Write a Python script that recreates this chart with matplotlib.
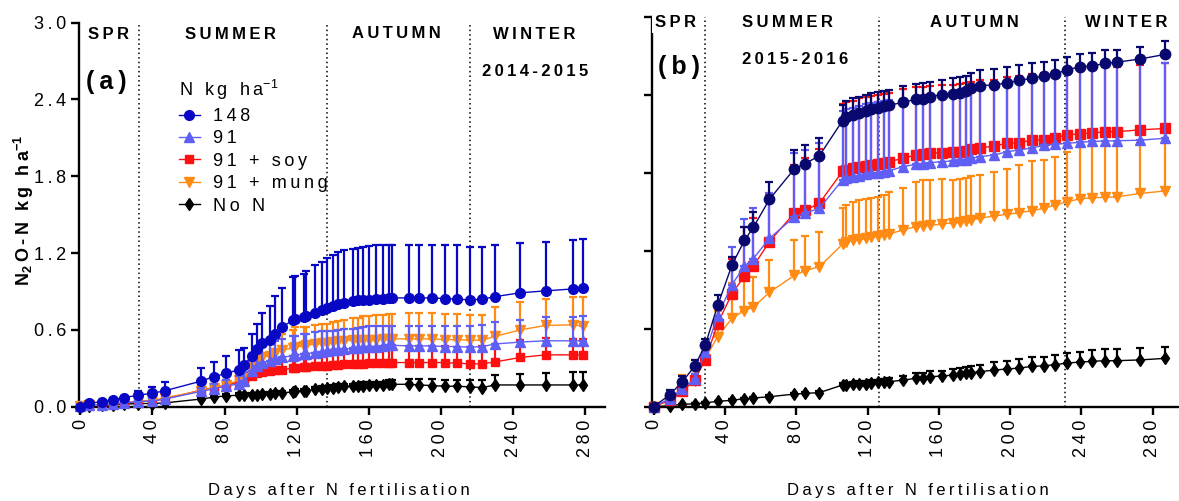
import numpy as np
import matplotlib.pyplot as plt

plt.rcParams['font.family'] = ['Liberation Sans', 'DejaVu Sans']
plt.rcParams['mathtext.fontset'] = 'custom'
plt.rcParams['mathtext.rm'] = 'Liberation Sans'
plt.rcParams['mathtext.bf'] = 'Liberation Sans:bold'
plt.rcParams['mathtext.it'] = 'Liberation Sans:italic'

# ---------- 2014-2015 season (panel a) ----------
days_a = [0, 5, 12, 18, 24, 32, 40, 47, 67, 74, 81, 88, 91, 95, 98, 101, 105, 108, 112, 118,
          119, 124, 125, 130, 134, 137, 140, 143, 146, 151, 154, 157, 160, 164, 168, 171, 173, 182, 188, 195,
          202, 209, 216, 223, 230, 244, 258, 273, 279]

n148_a = [0, 0.027, 0.04, 0.052, 0.07, 0.09, 0.105, 0.125, 0.20, 0.235,
          0.26, 0.29, 0.325, 0.40, 0.45, 0.495, 0.525, 0.57, 0.62, 0.68,
          0.685, 0.70, 0.71, 0.735, 0.755, 0.775, 0.785, 0.80, 0.81, 0.825,
          0.83, 0.835, 0.835, 0.84, 0.845, 0.85, 0.85, 0.85, 0.85, 0.85,
          0.845, 0.84, 0.835, 0.84, 0.86, 0.89, 0.905, 0.92, 0.93]
se148_a = [0.01, 0.008, 0.01, 0.013, 0.015, 0.03, 0.05, 0.065, 0.10, 0.115,
           0.14, 0.15, 0.135, 0.165, 0.20, 0.24, 0.26, 0.295, 0.31, 0.335,
           0.335, 0.335, 0.35, 0.37, 0.375, 0.39, 0.40, 0.41, 0.415, 0.41,
           0.41, 0.415, 0.42, 0.42, 0.415, 0.41, 0.41, 0.41, 0.41, 0.41,
           0.415, 0.42, 0.415, 0.405, 0.40, 0.39, 0.385, 0.38, 0.38]

n91_a = [0.005, 0.01, 0.015, 0.02, 0.03, 0.04, 0.045, 0.06, 0.12, 0.14,
         0.16, 0.18, 0.20, 0.28, 0.32, 0.345, 0.36, 0.37, 0.385, 0.40,
         0.405, 0.41, 0.415, 0.42, 0.43, 0.435, 0.44, 0.445, 0.45, 0.455,
         0.46, 0.465, 0.47, 0.47, 0.475, 0.48, 0.48, 0.475, 0.475, 0.475,
         0.47, 0.47, 0.465, 0.47, 0.49, 0.505, 0.515, 0.515, 0.515]
se91_a = [0.005, 0.005, 0.008, 0.01, 0.01, 0.015, 0.02, 0.02, 0.03, 0.04,
          0.05, 0.06, 0.07, 0.08, 0.10, 0.12, 0.13, 0.14, 0.145, 0.15,
          0.15, 0.155, 0.155, 0.16, 0.16, 0.155, 0.155, 0.155, 0.155, 0.155,
          0.155, 0.16, 0.16, 0.16, 0.155, 0.15, 0.15, 0.155, 0.155, 0.155,
          0.16, 0.16, 0.165, 0.17, 0.175, 0.175, 0.185, 0.185, 0.195]

soy_a = [0.005, 0.01, 0.015, 0.02, 0.03, 0.04, 0.045, 0.06, 0.13, 0.15,
         0.17, 0.19, 0.20, 0.24, 0.26, 0.27, 0.28, 0.285, 0.29, 0.30,
         0.305, 0.31, 0.31, 0.315, 0.32, 0.32, 0.325, 0.325, 0.33, 0.33,
         0.335, 0.335, 0.34, 0.34, 0.34, 0.345, 0.345, 0.345, 0.345, 0.345,
         0.345, 0.34, 0.335, 0.335, 0.35, 0.385, 0.405, 0.405, 0.405]
se_soy_a = [0.005, 0.005, 0.008, 0.01, 0.01, 0.015, 0.02, 0.02, 0.03, 0.03,
            0.04, 0.05, 0.05, 0.06, 0.07, 0.075, 0.08, 0.085, 0.09, 0.095,
            0.10, 0.10, 0.10, 0.105, 0.11, 0.11, 0.115, 0.115, 0.115, 0.12,
            0.12, 0.125, 0.125, 0.125, 0.13, 0.13, 0.13, 0.13, 0.13, 0.13,
            0.13, 0.13, 0.135, 0.14, 0.14, 0.14, 0.13, 0.125, 0.125]

mung_a = [0.005, 0.01, 0.015, 0.02, 0.03, 0.045, 0.05, 0.07, 0.125, 0.15,
          0.17, 0.21, 0.24, 0.31, 0.36, 0.39, 0.40, 0.42, 0.44, 0.46,
          0.47, 0.475, 0.48, 0.49, 0.495, 0.50, 0.505, 0.51, 0.515, 0.52,
          0.52, 0.525, 0.525, 0.525, 0.53, 0.53, 0.53, 0.53, 0.53, 0.53,
          0.525, 0.525, 0.52, 0.52, 0.55, 0.60, 0.635, 0.64, 0.63]
se_mung_a = [0.005, 0.005, 0.008, 0.01, 0.01, 0.015, 0.02, 0.02, 0.03, 0.03,
             0.04, 0.06, 0.08, 0.10, 0.105, 0.12, 0.115, 0.13, 0.125, 0.14,
             0.15, 0.145, 0.145, 0.15, 0.15, 0.15, 0.16, 0.16, 0.165, 0.17,
             0.175, 0.18, 0.185, 0.19, 0.19, 0.195, 0.195, 0.2, 0.2, 0.2,
             0.2, 0.2, 0.2, 0.2, 0.23, 0.22, 0.21, 0.22, 0.23]

noN_a = [0, 0.005, 0.01, 0.015, 0.02, 0.025, 0.025, 0.03, 0.06, 0.075,
         0.085, 0.09, 0.09, 0.095, 0.095, 0.10, 0.10, 0.105, 0.11, 0.115,
         0.12, 0.125, 0.125, 0.135, 0.14, 0.145, 0.15, 0.155, 0.16, 0.16,
         0.165, 0.165, 0.17, 0.17, 0.17, 0.175, 0.175, 0.175, 0.17, 0.165,
         0.16, 0.16, 0.155, 0.15, 0.17, 0.17, 0.17, 0.17, 0.17]
se_noN_a = [0.002, 0.003, 0.004, 0.005, 0.005, 0.006, 0.008, 0.01, 0.015, 0.015,
            0.015, 0.015, 0.015, 0.015, 0.015, 0.015, 0.015, 0.015, 0.015, 0.015,
            0.015, 0.015, 0.015, 0.02, 0.02, 0.02, 0.02, 0.02, 0.02, 0.02,
            0.02, 0.025, 0.025, 0.025, 0.025, 0.03, 0.03, 0.04, 0.045, 0.05,
            0.05, 0.05, 0.055, 0.06, 0.075, 0.085, 0.09, 0.1, 0.1]

# ---------- 2015-2016 season (panel b) ----------
days_b = [0, 9, 16, 23, 29, 36, 44, 51, 56, 65,
          79, 85, 93, 106, 108, 112, 115, 119, 122, 126,
          129, 132, 140, 147, 151, 155, 162, 168, 172, 175,
          178, 183, 191, 198, 205, 212, 219, 225, 232, 239,
          246, 253, 260, 273, 287]

n148_b = [0, 0.09, 0.19, 0.31, 0.475, 0.78, 1.09, 1.28, 1.38, 1.595,
          1.83, 1.87, 1.93, 2.20, 2.225, 2.245, 2.26, 2.275, 2.29, 2.30,
          2.31, 2.32, 2.34, 2.365, 2.37, 2.385, 2.40, 2.405, 2.415, 2.43,
          2.45, 2.47, 2.475, 2.49, 2.51, 2.525, 2.545, 2.56, 2.59, 2.615,
          2.62, 2.64, 2.65, 2.675, 2.71]
se148_b = [0.005, 0.04, 0.05, 0.05, 0.045, 0.08, 0.06, 0.10, 0.12, 0.135,
           0.145, 0.14, 0.135, 0.12, 0.125, 0.13, 0.125, 0.125, 0.125, 0.12,
           0.12, 0.115, 0.13, 0.12, 0.12, 0.115, 0.115, 0.12, 0.12, 0.115,
           0.12, 0.12, 0.12, 0.12, 0.115, 0.115, 0.11, 0.11, 0.1, 0.1,
           0.1, 0.1, 0.095, 0.09, 0.1]

n91_b = [0, 0.06, 0.14, 0.21, 0.42, 0.70, 0.94, 1.08, 1.14, 1.295,
         1.46, 1.49, 1.525, 1.745, 1.757, 1.77, 1.775, 1.79, 1.795, 1.80,
         1.807, 1.815, 1.846, 1.865, 1.87, 1.877, 1.885, 1.89, 1.898, 1.90,
         1.91, 1.923, 1.936, 1.96, 1.975, 1.99, 2.01, 2.018, 2.026, 2.034,
         2.04, 2.044, 2.046, 2.05, 2.065]
se91_b = [0.005, 0.03, 0.03, 0.04, 0.05, 0.1, 0.29, 0.36, 0.39, 0.35,
          0.49, 0.485, 0.50, 0.53, 0.53, 0.53, 0.535, 0.54, 0.54, 0.545,
          0.545, 0.545, 0.52, 0.52, 0.52, 0.52, 0.52, 0.52, 0.525, 0.53,
          0.53, 0.53, 0.54, 0.54, 0.545, 0.55, 0.55, 0.56, 0.57, 0.58,
          0.58, 0.59, 0.59, 0.59, 0.58]

soy_b = [0, 0.05, 0.12, 0.205, 0.36, 0.64, 0.87, 1.005, 1.08, 1.27,
         1.49, 1.51, 1.565, 1.81, 1.82, 1.835, 1.846, 1.855, 1.86, 1.868,
         1.877, 1.885, 1.91, 1.936, 1.94, 1.95, 1.955, 1.957, 1.96, 1.97,
         1.98, 1.99, 2.005, 2.026, 2.03, 2.05, 2.055, 2.07, 2.09, 2.10,
         2.105, 2.115, 2.115, 2.13, 2.14]
se_soy_b = [0.005, 0.03, 0.04, 0.05, 0.06, 0.13, 0.27, 0.375, 0.37, 0.36,
            0.37, 0.40, 0.415, 0.52, 0.52, 0.52, 0.525, 0.53, 0.53, 0.53,
            0.53, 0.53, 0.53, 0.52, 0.52, 0.52, 0.52, 0.52, 0.52, 0.52,
            0.52, 0.52, 0.51, 0.51, 0.51, 0.51, 0.51, 0.51, 0.5, 0.5,
            0.5, 0.5, 0.5, 0.5, 0.5]

mung_b = [0, 0.05, 0.12, 0.2, 0.37, 0.54, 0.68, 0.74, 0.765, 0.88,
          1.01, 1.046, 1.077, 1.25, 1.27, 1.282, 1.29, 1.295, 1.305, 1.313,
          1.32, 1.328, 1.36, 1.385, 1.39, 1.395, 1.405, 1.415, 1.423, 1.43,
          1.436, 1.45, 1.467, 1.48, 1.492, 1.508, 1.526, 1.55, 1.577, 1.598,
          1.608, 1.61, 1.615, 1.64, 1.66]
se_mung_b = [0.005, 0.08, 0.125, 0.16, 0.1, 0.2, 0.27, 0.31, 0.23, 0.25,
             0.27, 0.265, 0.27, 0.275, 0.28, 0.295, 0.30, 0.30, 0.30, 0.30,
             0.31, 0.32, 0.32, 0.345, 0.35, 0.35, 0.345, 0.33, 0.325, 0.33,
             0.335, 0.33, 0.34, 0.35, 0.37, 0.38, 0.37, 0.37, 0.385, 0.40,
             0.40, 0.40, 0.40, 0.39, 0.38]

noN_b = [0, 0.008, 0.018, 0.023, 0.03, 0.041, 0.05, 0.062, 0.067, 0.077,
         0.097, 0.103, 0.108, 0.167, 0.167, 0.172, 0.174, 0.174, 0.18, 0.187,
         0.192, 0.192, 0.205, 0.218, 0.218, 0.231, 0.236, 0.244, 0.249, 0.256,
         0.262, 0.269, 0.282, 0.29, 0.297, 0.31, 0.315, 0.323, 0.336, 0.343,
         0.349, 0.354, 0.354, 0.36, 0.372]
se_noN_b = [0.002, 0.003, 0.005, 0.005, 0.005, 0.006, 0.007, 0.008, 0.008, 0.01,
            0.012, 0.012, 0.012, 0.015, 0.018, 0.02, 0.02, 0.02, 0.022, 0.022,
            0.022, 0.025, 0.035, 0.04, 0.04, 0.04, 0.04, 0.045, 0.045, 0.048,
            0.05, 0.055, 0.06, 0.065, 0.07, 0.07, 0.07, 0.075, 0.08, 0.08,
            0.085, 0.09, 0.09, 0.09, 0.09]

treatments = ['148', '91', '91 + soy', '91 + mung', 'No N']
seasons = ['SPR', 'SUMMER', 'AUTUMN', 'WINTER']
season_breaks_a = [32.5, 136.7, 216]
season_breaks_b = [29, 126.6, 230.5]
y_ticks = [0.0, 0.6, 1.2, 1.8, 2.4, 3.0]
x_ticks = [0, 40, 80, 120, 160, 200, 240, 280]


def sp(s):
    # Prism-style wide letter spacing
    return '\u2009'.join(s)


def draw(ax, days, vals, se, color, marker, ms, z):
    lo = np.zeros(len(se))
    c = ax.errorbar(days, vals, yerr=[lo, se], color=color, marker=marker, ms=ms,
                    lw=1.0, elinewidth=1.6, capsize=3, capthick=1.6,
                    zorder=z, clip_on=False)
    for b in c.lines[2]:
        b.set_clip_on(False)
    for cap in c.lines[1]:
        cap.set_clip_on(False)
    return c


def style_axis(ax, xmax, labels_y):
    for s in ['top', 'right']:
        ax.spines[s].set_visible(False)
    for s in ['left', 'bottom']:
        ax.spines[s].set_linewidth(1.7)
    ax.set_ylim(0, 3.0)
    ax.set_xlim(-1, xmax)
    ax.set_yticks(y_ticks, [sp(f'{v:.1f}') for v in y_ticks])
    ax.set_xticks(x_ticks, [sp(str(v)) for v in x_ticks], rotation=90)
    ax.tick_params(axis='both', direction='out', length=6, width=1.7, labelsize=13, pad=3)
    if not labels_y:
        ax.tick_params(axis='y', labelleft=False)


def season_text(ax, x, y, s, size=12):
    ax.text(x, y, s, transform=ax.transAxes, fontsize=size, fontweight='bold', va='center')


fig = plt.figure(figsize=(11.79, 5.01), dpi=100)
ax_a = fig.add_axes([0.0666, 0.1882, 0.4466, 0.7665])
ax_b = fig.add_axes([0.5528, 0.1882, 0.4472, 0.7785])

# panel a
style_axis(ax_a, 291, True)
for d in season_breaks_a:
    ax_a.axvline(d, color='black', ls=(0, (1, 2)), lw=1.1, zorder=1)
h_noN = draw(ax_a, days_a, noN_a, se_noN_a, 'black', 'd', 6.5, 3)
h_soy = draw(ax_a, days_a, soy_a, se_soy_a, '#FF1010', 's', 6, 4)
h_mung = draw(ax_a, days_a, mung_a, se_mung_a, '#FF8A14', 'v', 6.5, 5)
h91 = draw(ax_a, days_a, n91_a, se91_a, '#5F5FF5', '^', 6.5, 6)
h148 = draw(ax_a, days_a, n148_a, se148_a, '#0808C4', 'o', 7, 7)

leg_handles = [h.lines[0] for h in [h148, h91, h_soy, h_mung, h_noN]]
ax_a.legend(leg_handles, [sp(t) for t in treatments], loc='upper left',
            bbox_to_anchor=(0.19, 0.855), frameon=False, fontsize=13,
            handlelength=1.2, handletextpad=0.7, labelspacing=0.3,
            borderpad=0, borderaxespad=0,
            title=sp('N kg ha') + '$^{-1}$', title_fontsize=13, alignment='left')

season_text(ax_a, 0.018, 0.968, sp('SPR'))
season_text(ax_a, 0.202, 0.968, sp('SUMMER'))
season_text(ax_a, 0.519, 0.973, sp('AUTUMN'))
season_text(ax_a, 0.787, 0.968, sp('WINTER'))
season_text(ax_a, 0.014, 0.845, sp('(a)'), 18)
season_text(ax_a, 0.766, 0.872, sp('2014-2015'))

# panel b
style_axis(ax_b, 294.7, False)
for d in season_breaks_b:
    ax_b.axvline(d, color='black', ls=(0, (1, 2)), lw=1.1, zorder=1)
draw(ax_b, days_b, noN_b, se_noN_b, 'black', 'd', 6.5, 3)
draw(ax_b, days_b, mung_b, se_mung_b, '#FF8A14', 'v', 7, 4)
draw(ax_b, days_b, soy_b, se_soy_b, '#FF1010', 's', 6.5, 5)
draw(ax_b, days_b, n91_b, se91_b, '#5F5FF5', '^', 7, 6)
draw(ax_b, days_b, n148_b, se148_b, '#08086E', 'o', 7.5, 7)

ax_b.text(0.006, 0.984, sp('SPR'), transform=ax_b.transAxes, fontsize=12, fontweight='bold', va='center',
          bbox=dict(facecolor='white', edgecolor='none', pad=2), zorder=10)
season_text(ax_b, 0.171, 0.984, sp('SUMMER'))
season_text(ax_b, 0.528, 0.984, sp('AUTUMN'))
season_text(ax_b, 0.821, 0.984, sp('WINTER'))
season_text(ax_b, 0.012, 0.871, sp('(b)'), 18)
season_text(ax_b, 0.171, 0.889, sp('2015-2016'))

# shared labels
ylab = ('N$_{\\mathbf{2}}$\u2009' + sp('O-N') + '\u2009\u2009\u2009' + sp('kg') +
        '\u2009\u2009\u2009' + sp('ha') + '$^{\\mathbf{-1}}$')
fig.text(24 / 1179, 1 - 210 / 501, ylab, rotation=90, ha='center', va='center',
         fontsize=13, fontweight='bold')
xlab = '\u2009 \u2009'.join(sp(w) for w in 'Days after N fertilisation'.split())
fig.text(339 / 1179, 1 - 490 / 501, xlab, ha='center', va='center', fontsize=12)
fig.text(918 / 1179, 1 - 490 / 501, xlab, ha='center', va='center', fontsize=12)

fig.savefig('out.png', dpi=100)
